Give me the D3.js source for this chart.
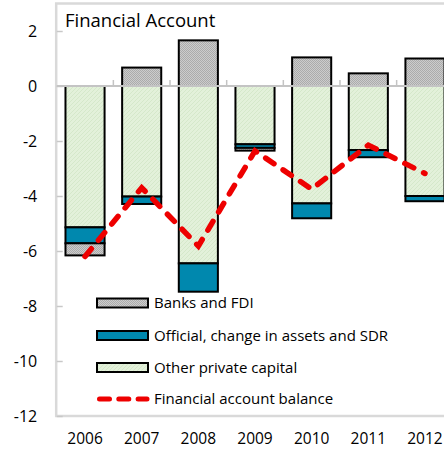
<!DOCTYPE html>
<html><head><meta charset="utf-8">
<script src="https://cdn.jsdelivr.net/npm/d3@7"></script>
<style>
html,body{margin:0;padding:0;background:#fff;overflow:hidden}
text{font-family:"Open Sans",sans-serif;fill:#000}
</style></head>
<body><svg id="c" width="444" height="450"></svg>
<script>
const years = ["2006","2007","2008","2009","2010","2011","2012"];
const banksFDI = [-0.44, 0.67, 1.66, -0.10, 1.04, 0.46, 1.00];
const official = [-0.58, -0.27, -1.03, -0.13, -0.54, -0.26, -0.19];
const otherPrivate = [-5.14, -4.02, -6.45, -2.12, -4.27, -2.33, -4.00];
const balance = [-6.2, -3.7, -5.82, -2.36, -3.75, -2.15, -3.18];
const yTicks = [2, 0, -2, -4, -6, -8, -10, -12];
const title = "Financial Account";
const legendLabels = ["Banks and FDI", "Official, change in assets and SDR", "Other private capital", "Financial account balance"];

const svg = d3.select("#c");
const pL = 56.7, pR = 453.3, pT = 3.5, pB = 416;
const x = d3.scaleBand().domain(years).range([pL, pR]).paddingInner(0.31).paddingOuter(0.155);
const y = d3.scaleLinear().domain([-12, 3]).range([pB, pT]);

const defs = svg.append("defs");
const pg = defs.append("pattern").attr("id","pGreen").attr("patternUnits","userSpaceOnUse").attr("width",4).attr("height",4);
pg.append("rect").attr("width",4).attr("height",4).attr("fill","#e3f1da");
pg.append("path").attr("d","M0,4 L4,0").attr("stroke","#d2e6c6").attr("stroke-width",0.8);
const pk = defs.append("pattern").attr("id","pGrey").attr("patternUnits","userSpaceOnUse").attr("width",2).attr("height",2);
pk.append("rect").attr("width",2).attr("height",2).attr("fill","#cccccc");
pk.append("rect").attr("width",1).attr("height",1).attr("fill","#ababab");
pk.append("rect").attr("x",1).attr("y",1).attr("width",1).attr("height",1).attr("fill","#ababab");

// frame
svg.append("rect").attr("x",pL-0.5).attr("y",pT).attr("width",pR-pL+10).attr("height",pB-pT)
  .attr("fill","none").attr("stroke","#d9d9d9").attr("stroke-width",2.5);

// y axis ticks & labels
const yAxis = d3.axisLeft(y).tickValues(yTicks).tickSize(-6).tickPadding(20).tickFormat(d => String(d));
const ga = svg.append("g").attr("transform",`translate(${pL},0)`).call(yAxis);
ga.select(".domain").remove();
ga.selectAll(".tick line").attr("stroke","#c8c8c8").attr("stroke-width",1.5);
ga.selectAll(".tick text").style("font-size","16px").attr("fill","#000").attr("x",-19.5);

// stacked bars
const rows = years.map((yr,i)=>({year:yr, banks:banksFDI[i], official:official[i], other:otherPrivate[i]}));
const stack = d3.stack().keys(["other","official","banks"]).offset(d3.stackOffsetDiverging);
const series = stack(rows);
const fills = {other:"url(#pGreen)", official:"#0088ae", banks:"url(#pGrey)"};
series.forEach(s=>{
  svg.append("g").selectAll("rect").data(s).join("rect")
    .attr("x",d=>x(d.data.year))
    .attr("width",x.bandwidth())
    .attr("y",d=>y(Math.max(d[0],d[1])))
    .attr("height",d=>Math.abs(y(d[0])-y(d[1])))
    .attr("fill",fills[s.key])
    .attr("stroke","#000").attr("stroke-width",2);
});

// zero line with category ticks
svg.append("line").attr("x1",pL).attr("x2",pR+10).attr("y1",y(0)).attr("y2",y(0))
  .attr("stroke","#c4c4c4").attr("stroke-width",2);
const bounds = years.slice(1).map(yr=>x(yr)-x.step()*x.paddingInner()/2).concat([pR]);
svg.append("g").selectAll("line").data(bounds).join("line")
  .attr("x1",d=>d).attr("x2",d=>d).attr("y1",y(0)).attr("y2",y(0)-6)
  .attr("stroke","#c4c4c4").attr("stroke-width",1.5);

// x labels
svg.append("g").attr("transform",`translate(0,${pB})`).call(d3.axisBottom(x).tickSize(0).tickPadding(17))
  .call(g=>g.select(".domain").remove())
  .selectAll("text").style("font-size","15.5px").attr("fill","#000");

// balance line
const line = d3.line().x((d,i)=>x(years[i])+x.bandwidth()/2).y(d=>y(d));
svg.append("path").datum(balance).attr("d",line).attr("fill","none")
  .attr("stroke","#ee0000").attr("stroke-width",5.5).attr("stroke-linecap","round")
  .attr("stroke-dasharray","10,11");

// title
svg.append("text").attr("x",65).attr("y",27).style("font-size","18.5px").text(title);

// legend
const lg = svg.append("g");
const ly = [303, 335.5, 367.5, 399];
const lfill = ["url(#pGrey)","#0088ae","url(#pGreen)"];
legendLabels.forEach((t,i)=>{
  if(i<3){
    lg.append("rect").attr("x",97).attr("y",ly[i]-4.5).attr("width",51).attr("height",9)
      .attr("fill",lfill[i]).attr("stroke","#000").attr("stroke-width",2);
  } else {
    lg.append("line").attr("x1",99.5).attr("x2",147).attr("y1",ly[i]).attr("y2",ly[i])
      .attr("stroke","#ee0000").attr("stroke-width",5).attr("stroke-linecap","round")
      .attr("stroke-dasharray","10,9.3");
  }
  lg.append("text").attr("x",154).attr("y",ly[i]).attr("dy","0.35em").style("font-size","15px").text(t);
});
</script></body></html>
